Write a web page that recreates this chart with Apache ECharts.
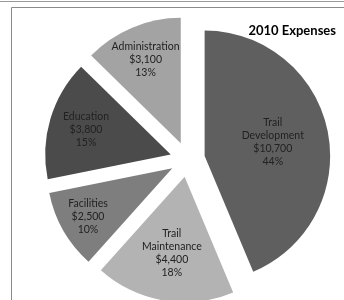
<!DOCTYPE html>
<html>
<head>
<meta charset="utf-8">
<title>2010 Expenses</title>
<script src="https://cdn.jsdelivr.net/npm/echarts@6/dist/echarts.min.js"></script>
<style>
  html, body { margin: 0; padding: 0; background: #fff; }
  #chart { width: 344px; height: 300px; }
</style>
</head>
<body>
<div id="chart"></div>
<script>
// expense categories, clockwise from 12 o'clock
const categories = ['Trail\nDevelopment', 'Trail\nMaintenance', 'Facilities', 'Education', 'Administration']
const expenses = [10700, 4400, 2500, 3800, 3100]

const sliceColors = ['#5f5f5f', '#b3b3b3', '#7e7e7e', '#4b4b4b', '#a3a3a3']
// how far out (fraction of radius) each label sits, excel puts them unevenly
const labelRadius = [0.53, 0.59, 0.75, 0.68, 0.70]

const pieRadius = 125.5
const font = 'Lato, "Liberation Sans", sans-serif'

const chart = echarts.init(document.getElementById('chart'), null, { renderer: 'canvas' })
const pieCenter = [187.5, 159.5]

chart.setOption({
  animation: false,
  title: {
    text: '2010 Expenses',
    right: 3,
    top: 19,
    textStyle: { fontFamily: font, fontSize: 13, fontWeight: 'bold', color: '#000' }
  },
  graphic: [
    { type: 'line', shape: { x1: 0, y1: 1.5, x2: 344, y2: 1.5 }, style: { stroke: '#999', lineWidth: 1 }, silent: true },
    { type: 'rect', shape: { x: 11.5, y: 7.5, width: 400, height: 400 }, style: { fill: 'none', stroke: '#8a8a8a', lineWidth: 1 }, silent: true }
  ],
  series: [{
    type: 'pie',
    center: pieCenter,
    radius: pieRadius,
    startAngle: 90,
    clockwise: true,
    percentPrecision: 0,
    selectedMode: 'multiple',
    selectedOffset: 17.5,
    avoidLabelOverlap: false,
    emphasis: { disabled: true },
    itemStyle: { borderWidth: 0 },
    select: { itemStyle: { borderWidth: 0 } },
    label: {
      position: 'inside',
      fontFamily: font,
      fontSize: 10.5,
      lineHeight: 13,
      color: '#222',
      formatter: p => p.name + '\n$' + p.value.toLocaleString('en-US') + '\n' + p.percent + '%'
    },
    labelLine: { show: false },
    labelLayout: function (params) {
      const r = params.labelRect
      const lx = r.x + r.width / 2
      const ly = r.y + r.height / 2
      const vx = lx - pieCenter[0]
      const vy = ly - pieCenter[1]
      const len = Math.sqrt(vx * vx + vy * vy) || 1
      const shift = (labelRadius[params.dataIndex] - 0.5) * pieRadius
      return { dx: vx / len * shift, dy: vy / len * shift }
    },
    data: categories.map((name, i) => ({
      name: name,
      value: expenses[i],
      selected: true,
      itemStyle: { color: sliceColors[i] }
    }))
  }]
})

window.addEventListener('resize', function () {
  chart.resize()
})
</script>
</body>
</html>
